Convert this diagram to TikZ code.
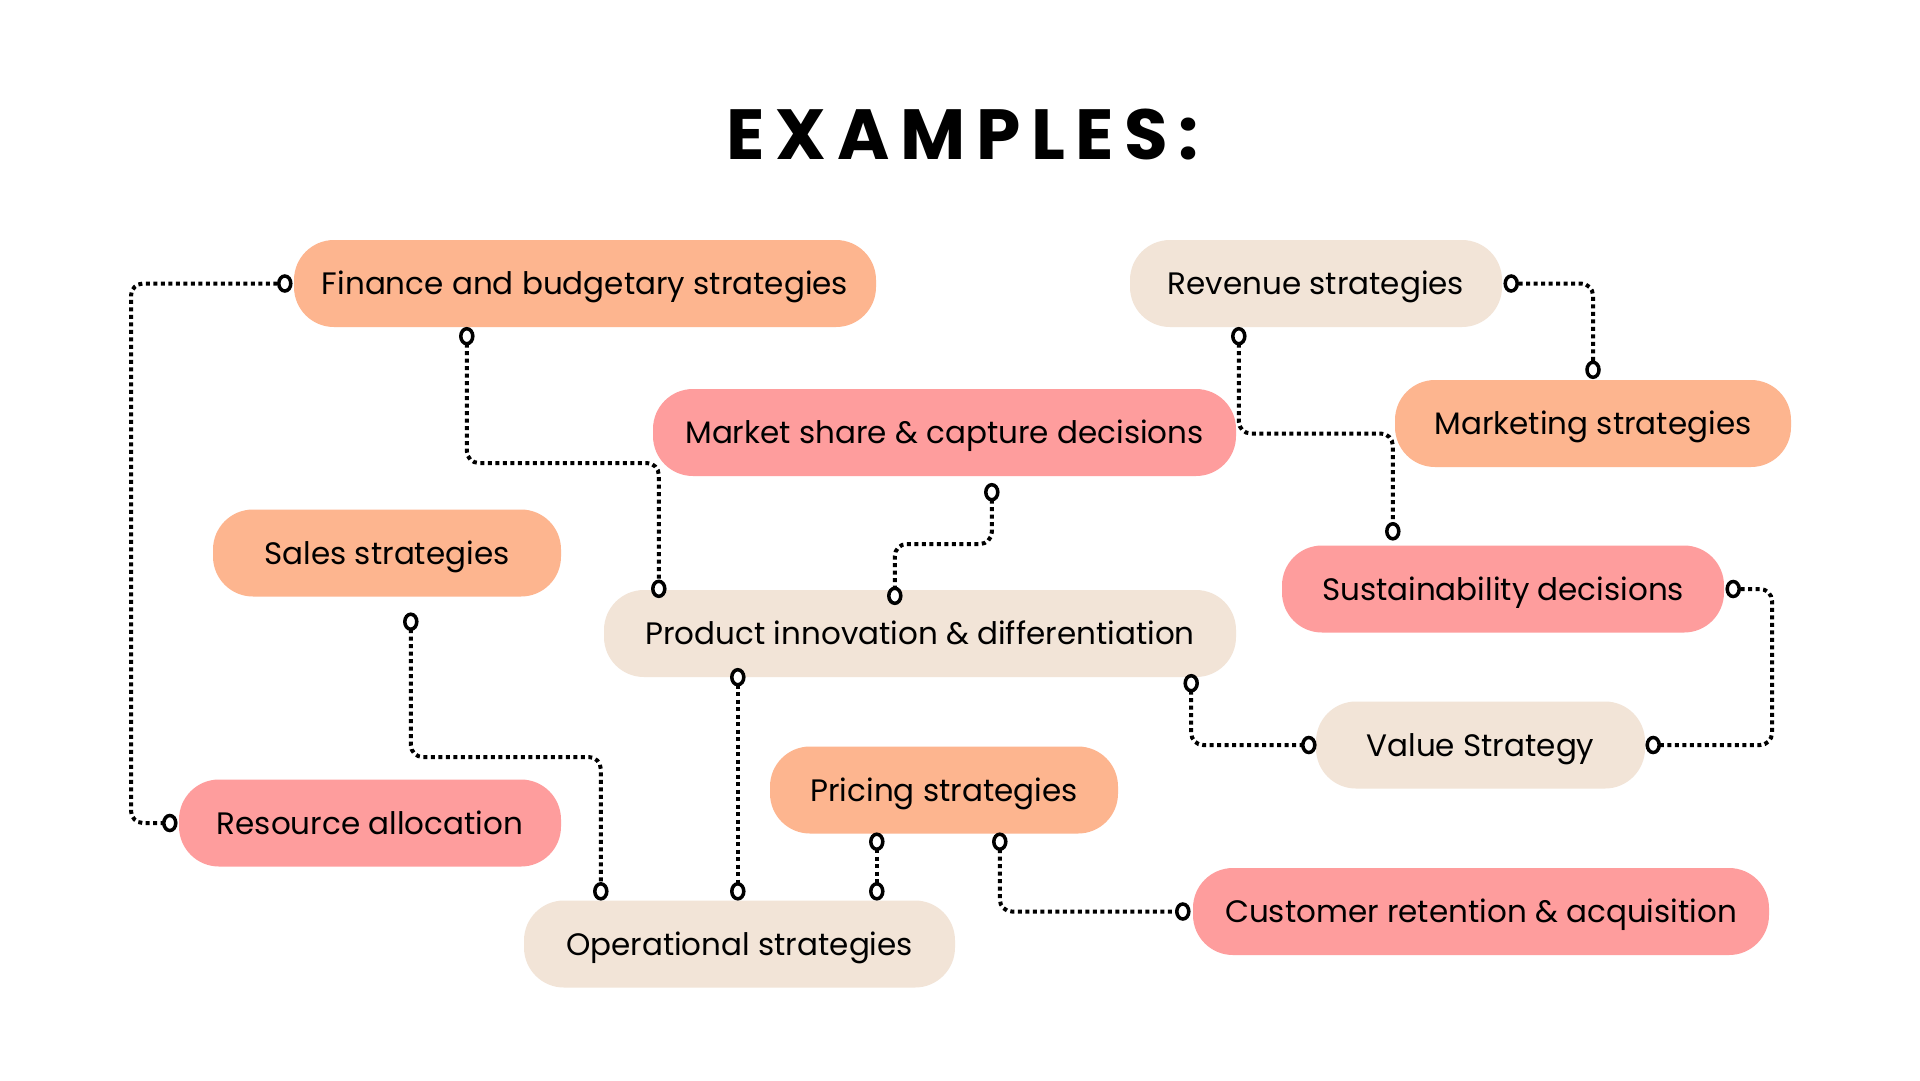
\documentclass[tikz,border=0pt]{standalone}
\usepackage{fontspec}
\setmainfont{Poppins}
\newfontfamily\titlefont{Poppins}[LetterSpace=15]
\usetikzlibrary{calc,shapes.geometric}
\definecolor{cOrange}{RGB}{253,181,143}
\definecolor{cPink}{RGB}{254,157,157}
\definecolor{cBeige}{RGB}{242,228,215}
\pgfdeclarelayer{bg}
\pgfsetlayers{bg,main}
\begin{document}
\begin{tikzpicture}[x=1pt,y=-1pt,
  pill/.style={rounded corners=40pt, minimum height=87pt, inner sep=0pt,
    text height=22pt, text depth=0pt, font=\fontsize{31}{36}\selectfont, text=black},
  orangebox/.style={pill, fill=cOrange},
  pinkbox/.style={pill, fill=cPink},
  beigebox/.style={pill, fill=cBeige},
  link/.style={line width=4pt, dash pattern=on 4pt off 3.5pt, rounded corners=12pt},
  ring/.style={ellipse, draw=black, line width=3.5pt, fill=white,
    minimum width=12pt, minimum height=15pt, inner sep=0pt}]
\useasboundingbox (0,0) rectangle (1920,1080);

\node[font=\titlefont\bfseries\fontsize{71}{80}\selectfont, inner sep=0pt, text height=50pt, text depth=0pt] (title) at (963,134) {EXAMPLES:};

\node[orangebox, minimum width=582pt] (fin) at (585,283.5) {Finance and budgetary strategies};
\node[beigebox,  minimum width=372pt] (rev) at (1316,283.5) {Revenue strategies};
\node[orangebox, minimum width=396pt] (mkt) at (1593,423.5) {Marketing strategies};
\node[pinkbox,   minimum width=583pt] (msh) at (944.5,432.5) {Market share \& capture decisions};
\node[orangebox, minimum width=348pt] (sal) at (387,553) {Sales strategies};
\node[beigebox,  minimum width=632pt] (pin) at (920,633.5) {Product innovation \& differentiation};
\node[pinkbox,   minimum width=442pt] (sus) at (1503,589) {Sustainability decisions};
\node[beigebox,  minimum width=329pt] (val) at (1480.5,745) {Value Strategy};
\node[orangebox, minimum width=348pt] (pri) at (944,790) {Pricing strategies};
\node[pinkbox,   minimum width=382pt] (res) at (370,823) {Resource allocation};
\node[beigebox,  minimum width=431pt] (ope) at (739.5,944) {Operational strategies};
\node[pinkbox,   minimum width=576pt] (cus) at (1481,911.5) {Customer retention \& acquisition};

% ring positions
\coordinate (a1) at ($(fin.west)+(-9,0)$);
\coordinate (a2) at ($(res.west)+(-9,0)$);
\coordinate (b1) at ($(fin.south west)+(173,9)$);
\coordinate (b2) at ($(pin.north west)+(55,-1)$);
\coordinate (c1) at ($(msh.south west)+(339,16)$);
\coordinate (c2) at ($(pin.north west)+(291,6)$);
\coordinate (d1) at ($(rev.south west)+(109,9)$);
\coordinate (d2) at ($(sus.north west)+(111,-14)$);
\coordinate (e1) at ($(rev.east)+(9,0)$);
\coordinate (e2) at ($(mkt.north)+(0,-10)$);
\coordinate (f1) at ($(sus.east)+(9,0)$);
\coordinate (f2) at ($(val.east)+(8,0)$);
\coordinate (g1) at ($(pin.south east)+(-45,6)$);
\coordinate (g2) at ($(val.west)+(-7,0)$);
\coordinate (h1) at ($(sal.south west)+(198,25)$);
\coordinate (h2) at ($(ope.north west)+(77,-9)$);
\coordinate (i1) at ($(pin.south west)+(134,0)$);
\coordinate (i2) at ($(ope.north west)+(214,-9)$);
\coordinate (j1) at ($(pri.south west)+(107,8)$);
\coordinate (j2) at ($(ope.north west)+(353,-9)$);
\coordinate (k1) at ($(pri.south west)+(230,8)$);
\coordinate (k2) at ($(cus.west)+(-10,0)$);

\begin{pgfonlayer}{bg}
\fill[white] (0,0) rectangle (1920,1080);
\draw[link] (a1) -| (131,560) |- (a2);
\draw[link] (b1) |- (560,463) -| (b2);
\draw[link] (c1) |- (940,544) -| (c2);
\draw[link] (d1) |- (1300,433.5) -| (d2);
\draw[link] (e1) -| (e2);
\draw[link] (f1) -| (1772,660) |- (f2);
\draw[link] (g1) |- (g2);
\draw[link] (h1) |- (500,757) -| (h2);
\draw[link] (i1) -- (i2);
\draw[link] (j1) -- (j2);
\draw[link] (k1) |- (k2);
\end{pgfonlayer}

\foreach \r in {a1,a2,b1,b2,c1,c2,d1,d2,e1,e2,f1,f2,g1,g2,h1,h2,i1,i2,j1,j2,k1,k2}
  \node[ring] (r-\r) at (\r) {};
\end{tikzpicture}
\end{document}
